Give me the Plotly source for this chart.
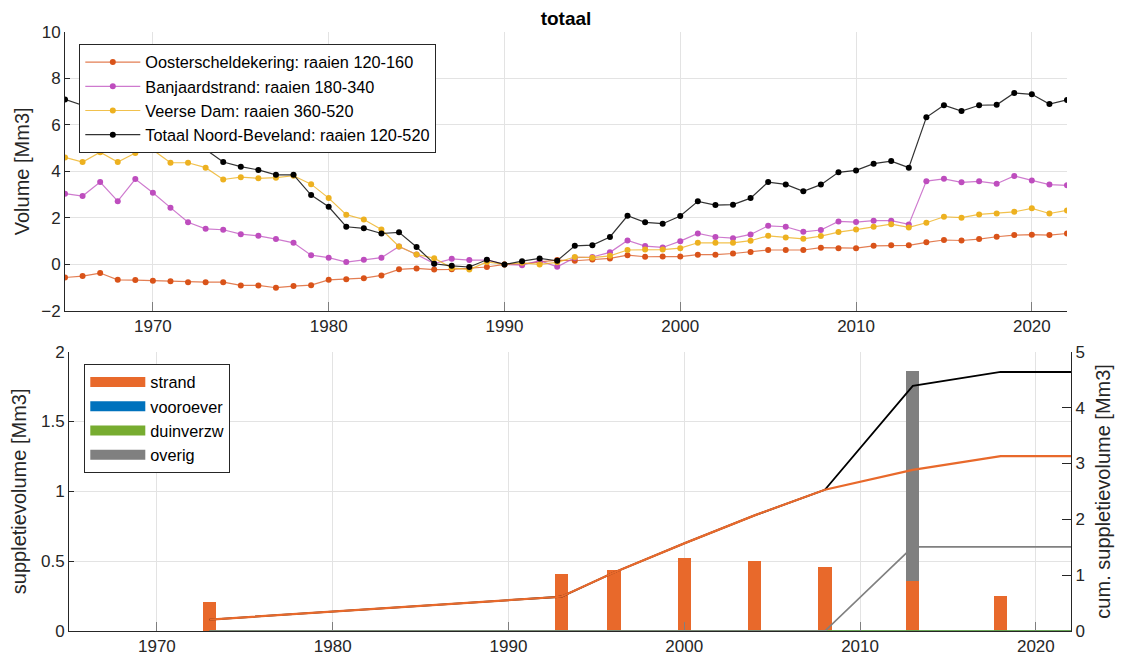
import plotly.graph_objects as go
import numpy as np

# ---------------- data: top panel (volume change per year) ----------------
years = list(range(1965, 2023))

oosterschelde = [-0.56, -0.50, -0.37, -0.66, -0.67, -0.70, -0.72, -0.76, -0.76, -0.76,
                 -0.90, -0.90, -1.00, -0.93, -0.89, -0.66, -0.64, -0.59, -0.47, -0.21,
                 -0.17, -0.22, -0.21, -0.16, -0.11, 0.00, 0.02, 0.11, 0.19, 0.16,
                 0.21, 0.26, 0.40, 0.33, 0.34, 0.34, 0.42, 0.42, 0.47, 0.53,
                 0.62, 0.62, 0.62, 0.72, 0.70, 0.70, 0.80, 0.82, 0.82, 0.95,
                 1.05, 1.03, 1.09, 1.19, 1.26, 1.28, 1.26, 1.33]

banjaard = [3.04, 2.94, 3.54, 2.72, 3.67, 3.08, 2.44, 1.81, 1.53, 1.49,
            1.30, 1.23, 1.09, 0.93, 0.40, 0.29, 0.10, 0.20, 0.29, 0.77,
            0.43, 0.04, 0.24, 0.19, 0.19, 0.00, -0.03, 0.16, -0.10, 0.29,
            0.32, 0.52, 1.03, 0.79, 0.73, 1.00, 1.33, 1.18, 1.13, 1.29,
            1.66, 1.62, 1.40, 1.48, 1.85, 1.82, 1.88, 1.88, 1.72, 3.58,
            3.68, 3.53, 3.57, 3.47, 3.80, 3.61, 3.43, 3.40]

veerse = [4.60, 4.40, 4.82, 4.40, 4.79, 4.92, 4.37, 4.37, 4.16, 3.65,
          3.75, 3.70, 3.73, 3.81, 3.45, 2.85, 2.14, 1.93, 1.50, 0.77,
          0.43, 0.27, -0.15, -0.22, 0.11, 0.00, 0.07, 0.00, 0.09, 0.32,
          0.29, 0.37, 0.62, 0.64, 0.64, 0.70, 0.93, 0.93, 0.93, 1.02,
          1.23, 1.16, 1.10, 1.22, 1.39, 1.50, 1.62, 1.73, 1.59, 1.79,
          2.05, 2.01, 2.15, 2.19, 2.26, 2.41, 2.19, 2.32]

totaal = [7.09, 6.84, 7.99, 6.46, 7.79, 7.30, 6.09, 5.42, 4.94, 4.40,
          4.20, 4.06, 3.85, 3.85, 2.98, 2.48, 1.62, 1.55, 1.33, 1.38,
          0.75, 0.03, -0.06, -0.11, 0.20, 0.00, 0.14, 0.26, 0.16, 0.80,
          0.83, 1.18, 2.09, 1.81, 1.75, 2.08, 2.71, 2.55, 2.57, 2.85,
          3.54, 3.44, 3.14, 3.43, 3.96, 4.04, 4.33, 4.44, 4.16, 6.32,
          6.84, 6.59, 6.84, 6.86, 7.37, 7.31, 6.89, 7.07]

top_names = ["Oosterscheldekering: raaien 120-160",
             "Banjaardstrand: raaien 180-340",
             "Veerse Dam: raaien 360-520",
             "Totaal Noord-Beveland: raaien 120-520"]

# ---------------- data: bottom panel (nourishments) ----------------
supp_years = [1973, 1993, 1996, 2000, 2004, 2008, 2013, 2018]
strand = [0.205, 0.408, 0.434, 0.522, 0.501, 0.458, 0.356, 0.248]
vooroever = [0, 0, 0, 0, 0, 0, 0, 0]
duinverzw = [0, 0, 0, 0, 0, 0, 0, 0]
overig = [0, 0, 0, 0, 0, 0, 1.505, 0]
cum_end_year = 2022

supp_names = ["strand", "vooroever", "duinverzw", "overig"]

# ---------------- styling ----------------
FONT = "Liberation Sans, Arial, Helvetica, sans-serif"
AX = "#262626"
GRID = "#E3E3E3"
W, H = 1133, 663
OFF = 8  # page body margin offset

top_mcol = ["#D95319", "#BE4DBE", "#EDB120", "#000000"]
top_lcol = ["rgba(217,83,25,0.75)", "rgba(190,77,190,0.75)", "rgba(237,177,32,0.8)", "rgba(0,0,0,0.8)"]
supp_col = ["#E8692B", "#0072BD", "#77AC30", "#808080"]

fig = go.Figure()

for vals, name, mc, lc in zip([oosterschelde, banjaard, veerse, totaal], top_names, top_mcol, top_lcol):
    fig.add_trace(go.Scatter(x=years, y=vals, name=name, mode="lines+markers",
                             line=dict(color=lc, width=1.2),
                             marker=dict(color=mc, size=6),
                             xaxis="x", yaxis="y", legend="legend"))

# bars
for vals, name, col in zip([strand, vooroever, duinverzw, overig], supp_names, supp_col):
    fig.add_trace(go.Bar(x=supp_years, y=vals, name=name, marker=dict(color=col, line=dict(width=0)),
                         width=0.76, xaxis="x2", yaxis="y2", showlegend=False))

# cumulative lines
cx = supp_years + [cum_end_year]
def cum(v):
    c = np.cumsum(v)
    return list(c) + [c[-1]]

tot_bars = np.array(strand) + np.array(vooroever) + np.array(duinverzw) + np.array(overig)
fig.add_trace(go.Scatter(x=cx, y=cum(tot_bars), mode="lines", line=dict(color="#000000", width=1.8),
                         xaxis="x2", yaxis="y3", showlegend=False, name="totaal cum."))
lw = [2.2, 1.5, 1.5, 1.7]
for vals, name, col, w in zip([strand, vooroever, duinverzw, overig], supp_names, supp_col, lw):
    fig.add_trace(go.Scatter(x=cx, y=cum(vals), mode="lines", line=dict(color=col, width=w),
                             xaxis="x2", yaxis="y3", showlegend=False, name=name + " cum."))

# legend swatches for bar categories
for name, col in zip(supp_names, supp_col):
    fig.add_trace(go.Scatter(x=[None], y=[None], mode="lines", name=name,
                             line=dict(color=col, width=16),
                             xaxis="x2", yaxis="y2", legend="legend2"))

def px_x(p):
    return (p - OFF) / W

def px_y(p):
    return 1 - (p - OFF) / H

tickfont = dict(family=FONT, size=17, color=AX)
titlefont = dict(family=FONT, size=20, color=AX)

xcommon = dict(range=[1965, 2022], tickvals=[1970, 1980, 1990, 2000, 2010, 2020],
               ticks="inside", ticklen=9, tickcolor="#7f7f7f", showgrid=True, gridcolor=GRID,
               showline=True, linecolor=AX, linewidth=1, zeroline=False, tickfont=tickfont,
               automargin=False)

fig.update_layout(
    width=W, height=H,
    margin=dict(l=0, r=0, t=0, b=0),
    paper_bgcolor="white", plot_bgcolor="white",
    font=dict(family=FONT, color=AX),
    title=dict(text="<b>totaal</b>", x=px_x(566), xanchor="center", xref="paper",
               y=px_y(18), yanchor="middle", yref="paper",
               font=dict(family=FONT, size=19, color="#000000")),
    xaxis=dict(domain=[px_x(65), px_x(1067)], anchor="y", **xcommon),
    yaxis=dict(domain=[px_y(311), px_y(31.7)], anchor="x", range=[-2, 10], dtick=2,
               ticks="inside", ticklen=5, tickcolor=AX, showgrid=True, gridcolor=GRID,
               showline=True, linecolor=AX, zeroline=False, tickfont=tickfont,
               title=dict(text="Volume [Mm3]", font=titlefont, standoff=6), automargin=False),
    xaxis2=dict(domain=[px_x(69), px_x(1071)], anchor="y2", **xcommon),
    yaxis2=dict(domain=[px_y(631), px_y(351.7)], anchor="x2", range=[0, 2], dtick=0.5,
                ticks="inside", ticklen=5, tickcolor=AX, showgrid=True, gridcolor=GRID,
                showline=True, linecolor=AX, zeroline=False, tickfont=tickfont,
                title=dict(text="suppletievolume [Mm3]", font=titlefont, standoff=8), automargin=False),
    yaxis3=dict(overlaying="y2", anchor="x2", side="right", range=[0, 5], dtick=1,
                ticks="inside", ticklen=9, tickcolor=AX, showgrid=False,
                showline=True, linecolor=AX, zeroline=False, tickfont=tickfont,
                title=dict(text="cum. suppletievolume [Mm3]", font=titlefont, standoff=12), automargin=False),
    barmode="stack",
    legend=dict(x=px_x(79.3), y=px_y(44), xanchor="left", yanchor="top", traceorder="normal",
                bgcolor="white", bordercolor=AX, borderwidth=1, itemwidth=55,
                font=dict(family=FONT, size=16.3, color="#000000"), tracegroupgap=0),
    legend2=dict(x=px_x(84.3), y=px_y(364), xanchor="left", yanchor="top", traceorder="normal",
                 bgcolor="white", bordercolor=AX, borderwidth=1, itemwidth=55,
                 font=dict(family=FONT, size=16.3, color="#000000"), tracegroupgap=0),
)

fig.write_html("out.html")
